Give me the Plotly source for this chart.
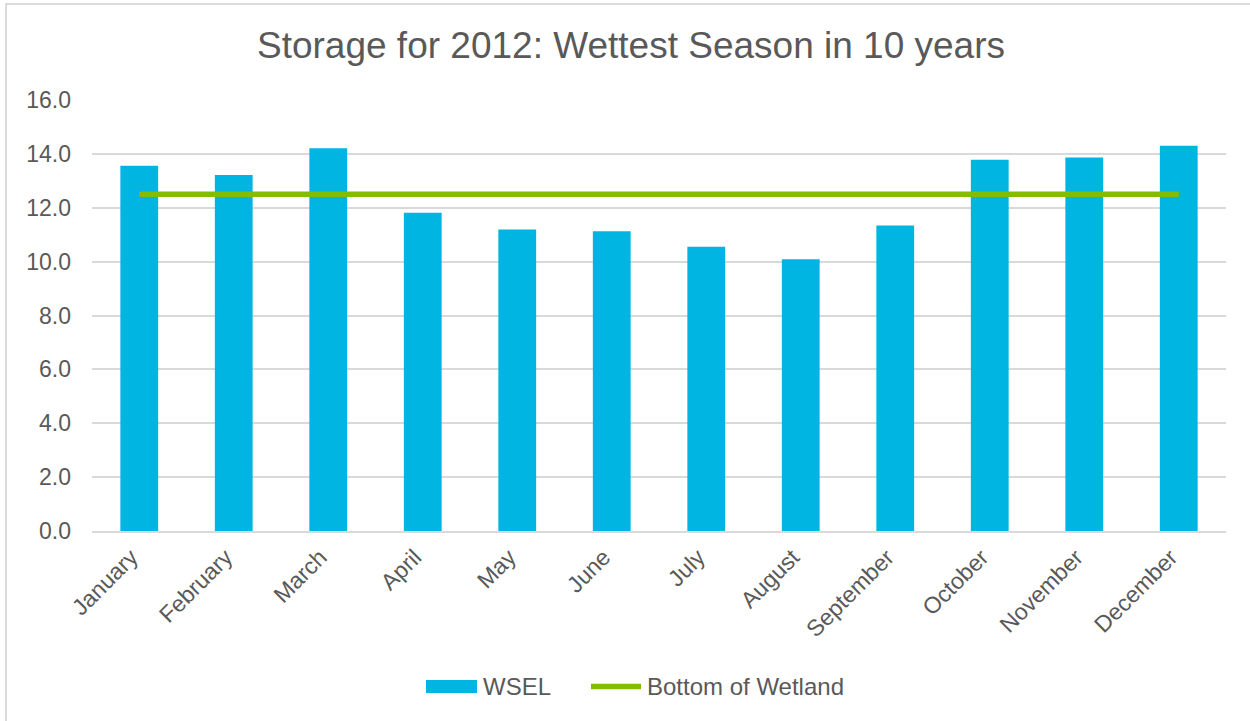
import plotly.graph_objects as go

# Monthly data for 2012
months = ["January", "February", "March", "April", "May", "June",
          "July", "August", "September", "October", "November", "December"]
wsel = [13.56, 13.22, 14.21, 11.81, 11.19, 11.13,
        10.55, 10.09, 11.34, 13.78, 13.87, 14.30]
wetland_bottom = [12.5] * 12
y_ticks = [0, 2, 4, 6, 8, 10, 12, 14, 16]

BLUE = "#00B5E2"
GREEN = "#84BD00"
TEXT = "#595959"
GRID = "#D9D9D9"
FONT = "Liberation Sans, Arial, sans-serif"

W, H = 1250, 721
ML, MR, MT, MB = 92, 24, 100, 190
PW, PH = W - ML - MR, H - MT - MB


def px(x):
    return (x - ML) / PW


def py(y):
    return (H - MB - y) / PH


fig = go.Figure()
fig.add_trace(go.Bar(
    x=months, y=wsel, name="WSEL", width=0.4,
    marker=dict(color=BLUE, line=dict(width=0)), showlegend=False,
))
fig.add_trace(go.Scatter(
    x=months, y=wetland_bottom, name="Bottom of Wetland", mode="lines",
    line=dict(color=GREEN, width=5.5), showlegend=False,
))

shapes = [
    # chart frame
    dict(type="rect", xref="paper", yref="paper",
         x0=px(6), x1=px(1265), y0=py(735), y1=py(4),
         line=dict(color="#D0D0D0", width=1.5), fillcolor="rgba(0,0,0,0)", layer="below"),
    # legend keys
    dict(type="rect", xref="paper", yref="paper",
         x0=px(426), x1=px(477), y0=py(693), y1=py(680),
         line=dict(width=0), fillcolor=BLUE),
    dict(type="line", xref="paper", yref="paper",
         x0=px(591), x1=px(641), y0=py(686.5), y1=py(686.5),
         line=dict(color=GREEN, width=5.5)),
]
annotations = [
    dict(text="WSEL", xref="paper", yref="paper", x=px(481), y=py(686),
         xanchor="left", yanchor="middle", showarrow=False,
         font=dict(family=FONT, size=24, color=TEXT)),
    dict(text="Bottom of Wetland", xref="paper", yref="paper", x=px(645), y=py(686),
         xanchor="left", yanchor="middle", showarrow=False,
         font=dict(family=FONT, size=24, color=TEXT)),
]

fig.update_layout(
    width=W, height=H,
    margin=dict(l=ML, r=MR, t=MT, b=MB),
    paper_bgcolor="white", plot_bgcolor="white",
    title=dict(text="Storage for 2012: Wettest Season in 10 years",
               x=631 / W, xref="container", xanchor="center",
               y=1 - 45 / H, yref="container", yanchor="middle",
               font=dict(family=FONT, size=37, color=TEXT)),
    font=dict(family=FONT, size=23, color=TEXT),
    shapes=shapes, annotations=annotations,
    bargap=0.6,
)
fig.update_xaxes(
    tickangle=-45, showgrid=False, showline=True, linecolor=GRID, linewidth=1.5,
    ticks="", ticklabelshift=-8, ticklabelstandoff=2,
    tickfont=dict(family=FONT, size=23, color=TEXT),
)
fig.update_yaxes(
    range=[0, 16], tickvals=y_ticks, ticktext=[f"{v:.1f}" for v in y_ticks],
    showgrid=True, gridcolor=GRID, gridwidth=1.5, zeroline=False,
    showline=False, ticks="", ticklabelstandoff=20,
    tickfont=dict(family=FONT, size=23, color=TEXT),
)

fig.write_html("out.html")
